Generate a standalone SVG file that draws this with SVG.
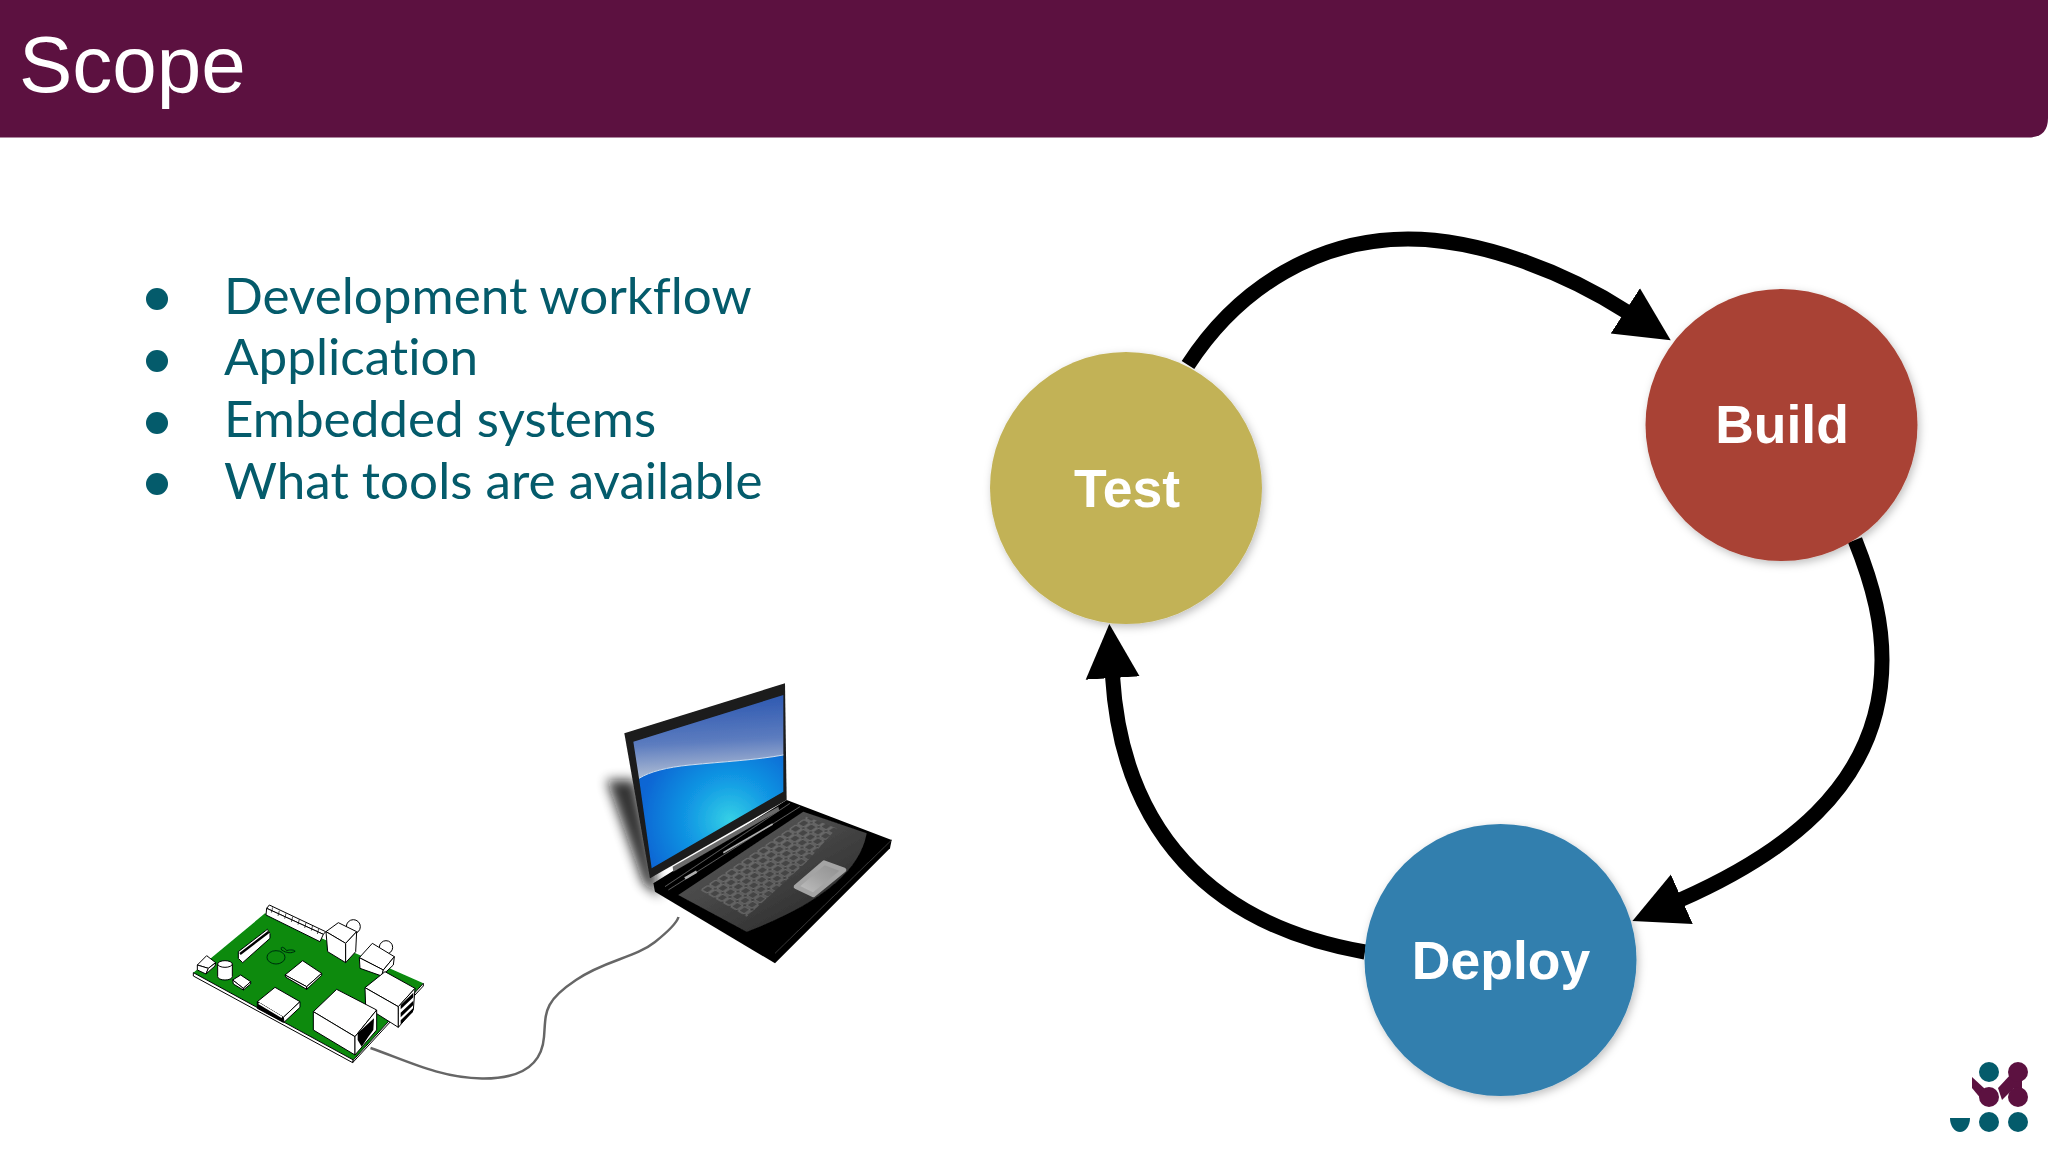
<svg xmlns="http://www.w3.org/2000/svg" width="2048" height="1152" viewBox="0 0 2048 1152">
<style>
.bul{font-family:"Lato","Liberation Sans",sans-serif;font-size:51.200px;fill:#045b6b;font-variant-ligatures:none}
.dot{fill:#045b6b}
.nd{font-family:"Liberation Sans",Arial,sans-serif;font-weight:700;font-size:53.500px;fill:#fff;text-anchor:middle}
.arc{fill:none;stroke:#000;stroke-width:15}
.w{fill:#fff;stroke:#000;stroke-width:3;stroke-linejoin:round}
.k{fill:#000}
.teal{fill:#045b6b}
.pur{fill:#5c1140}
</style>
<defs>
<marker id="head" markerUnits="userSpaceOnUse" markerWidth="56" markerHeight="56" refX="2" refY="28" orient="auto" viewBox="0 0 56 56"><path d="M0 1L54 28L0 55Z" fill="#000"/></marker>
<filter id="sh" x="-20%" y="-20%" width="140%" height="140%"><feDropShadow dx="2" dy="3" stdDeviation="4" flood-color="#000" flood-opacity=".25"/></filter>
<filter id="soft" x="-100%" y="-40%" width="300%" height="180%"><feGaussianBlur stdDeviation="18"/></filter>
<filter id="sl" x="-25%" y="-10%" width="135%" height="120%"><feGaussianBlur stdDeviation="1.800"/></filter>
<linearGradient id="sky" x1="0.5" y1="0" x2="0.6" y2="1"><stop offset="0" stop-color="#2a56b0"/><stop offset=".55" stop-color="#5c7cbf"/><stop offset="1" stop-color="#b8c4d6"/></linearGradient>
<radialGradient id="scr" gradientUnits="userSpaceOnUse" cx="420" cy="450" r="270"><stop offset="0" stop-color="#35d0e6"/><stop offset=".45" stop-color="#129ae4"/><stop offset="1" stop-color="#0a66d4"/></radialGradient>
<linearGradient id="deck" x1="0.1" y1="0.1" x2="0.8" y2="0.9"><stop offset="0" stop-color="#5e5e5e"/><stop offset="1" stop-color="#2c2c2c"/></linearGradient>
<linearGradient id="pad" x1="0" y1="1" x2="1" y2="0"><stop offset="0" stop-color="#c4c4c4"/><stop offset=".5" stop-color="#a4a4a4"/><stop offset="1" stop-color="#8e8e8e"/></linearGradient>
<pattern id="keys" patternUnits="userSpaceOnUse" width="1" height="1" patternTransform="matrix(24 -16.500 22 12.500 330 660)"><rect x=".1" y=".1" width=".8" height=".8" rx=".1" fill="#444" stroke="#a8a8a8" stroke-width=".06"/></pattern>
</defs>
<rect width="2048" height="1152" fill="#fff"/>
<path id="header" class="pur" d="M0 0H2048V118Q2048 137.500 2028 137.500H0Z"/>
<text x="19" y="92" font-family="Liberation Sans,Arial,sans-serif" font-size="80" fill="#fff">Scope</text>
<g id="bullets">
<ellipse class="dot" cx="157" cy="299" rx="11" ry="11"/><text class="bul" x="224" y="314">Development workflow</text>
<ellipse class="dot" cx="157" cy="361" rx="11" ry="11"/><text class="bul" x="224" y="375">Application</text>
<ellipse class="dot" cx="157" cy="423" rx="11" ry="11"/><text class="bul" x="224" y="437">Embedded systems</text>
<ellipse class="dot" cx="157" cy="484" rx="11" ry="11"/><text class="bul" x="224" y="499">What tools are available</text>
</g>
<g id="connectors">
<path class="arc" marker-end="url(#head)" d="M1188 365C1240 285 1320 239 1408 239C1480 239 1565 272 1627 312"/>
<path class="arc" marker-end="url(#head)" d="M1855 540C1875 590 1882 625 1882 660C1882 790 1775 858 1680 900"/>
<path class="arc" marker-end="url(#head)" d="M1365 952C1210 925 1122 830 1112.500 676"/>
</g>
<g id="node-test" filter="url(#sh)"><circle cx="1126" cy="488" r="136" fill="#c2b257"/><text class="nd" x="1127" y="507">Test</text></g>
<g id="node-build" filter="url(#sh)"><circle cx="1781.500" cy="425" r="136" fill="#a94234"/><text class="nd" x="1782" y="442.500">Build</text></g>
<g id="node-deploy" filter="url(#sh)"><circle cx="1500.500" cy="960" r="136" fill="#337fae"/><text class="nd" x="1501" y="979">Deploy</text></g>
<path id="cable" fill="none" stroke="#666" stroke-width="2.500" d="M370.500 1048C405 1060 440 1078 482 1078.500C525 1079 542 1062 544 1037C546 1012 543 1002 576 980C605 960 635 958 655 942C670 930 677 922 678.500 917"/>
<g id="laptop" transform="translate(590 670) scale(.33333)" filter="url(#sl)">
<path d="M50 330L135 330L210 680L160 640Z" fill="#111" opacity=".85" filter="url(#soft)"/>
<path d="M190 640L590 390L905 510L900 535L555 880L195 665Z" fill="#050505"/>
<path d="M265 675L640 425L830 490Q800 660 470 785Z" fill="url(#deck)"/>
<path d="M555 850L905 510" stroke="#333" stroke-width="3" fill="none"/>
<path d="M225 650L600 400M235 660L630 410" stroke="#5a5a5a" stroke-width="3" fill="none"/>
<path d="M330 660L650 440L740 475L650 575L470 740Z" fill="url(#keys)"/>
<path d="M618 650L702 578L762 600L670 675Z" fill="url(#pad)" stroke="#a4a4a4" stroke-width="14" stroke-linejoin="round"/>
<path d="M103 190L585 40L590 390L180 625Z" fill="#1b1b1b"/>
<path d="M130 215L580 75L580 255C500 270 400 275 300 285C230 292 180 305 147 325Z" fill="url(#sky)"/>
<path d="M147 325C180 305 230 292 300 285C400 275 500 270 580 255L580 365L185 595Z" fill="url(#scr)"/>
<path d="M147 325C180 305 230 292 300 285C400 275 500 270 580 255" fill="none" stroke="#cfe0f4" stroke-width="3"/>
<path d="M248 590L565 410L568 422L250 605Z" fill="#6a6a6a"/>
<path d="M400 548L548 462" stroke="#b0b0b0" stroke-width="5"/>
<path d="M285 625L320 605" stroke="#b0b0b0" stroke-width="8"/>
</g>
<g id="board" transform="translate(180 890) scale(.33333)" filter="url(#sl)">
<path d="M40 248L255 70L730 280L520 510Z" fill="#078a10"/>
<path d="M40 248L40 258L518 518L520 510Z" class="w"/>
<path d="M520 510L518 518L730 288L730 280Z" class="w"/>
<path d="M260 55L268 45L437 125L430 133Z" class="w"/><path d="M260 55L430 133L420 155L258 75Z" class="w"/>
<path d="M278 52L274 68M298 62L294 78M318 70L314 86M338 80L334 96M358 88L354 104M378 98L374 114M398 106L394 122M416 116L412 132" stroke="#000" stroke-width="2" fill="none"/>
<path d="M175 185L262 118L270 130L270 145L188 218L175 205Z" class="w"/><path d="M180 192L266 126" stroke="#000" stroke-width="7"/>
<g fill="none" stroke="#000" stroke-width="2"><ellipse cx="288" cy="202" rx="27" ry="20"/><path d="M305 180C300 168 312 170 320 182C330 178 345 180 345 184C335 190 320 190 305 180Z"/></g>
<path d="M52 225L80 197L107 218L85 235Z" class="w"/><path d="M52 225L85 235L78 252L52 240Z" class="w"/><path d="M85 235L107 218L105 228L78 252Z" class="w"/>
<path d="M113 222V260A22 10 0 0 0 157 260V222Z" class="w"/><ellipse class="w" cx="135" cy="222" rx="22" ry="10"/>
<path d="M158 270L182 255L212 275L190 295Z" class="w"/><path d="M158 270L190 295V300L160 282Z M190 295L212 275V282L190 300Z" class="w"/>
<path d="M315 255L368 212L425 250L380 290Z" class="w"/><path d="M315 255L380 290V298L318 262Z M380 290L425 250V256L380 298Z" class="w"/>
<path d="M232 335L285 292L360 335L310 382Z" class="w"/><path d="M232 335L310 382V397L232 355Z" class="k" stroke="#000" stroke-width="3"/><path d="M310 382L360 335V352L312 397Z" class="w"/><path d="M236 340L306 382" stroke="#fff" stroke-width="5"/>
<circle class="w" cx="520" cy="110" r="21"/>
<path d="M438 125L475 98L530 125L497 160Z" class="w"/><path d="M438 125L497 160V218L443 185Z" class="w"/><path d="M497 160L530 125L527 185L497 218Z" class="w"/>
<circle class="w" cx="618" cy="172" r="20"/>
<path d="M538 203L577 160L643 200L610 240Z" class="w"/><path d="M538 203L610 240L605 258L540 235Z" class="w"/><path d="M610 240L643 200L640 225L605 258Z" class="w"/>
<path d="M555 293L615 245L705 295L655 350Z" class="w"/><path d="M555 293L655 350V412L557 350Z" class="w"/><path d="M655 350L705 295L700 360L655 412Z" class="w"/>
<path d="M662 345L700 308V322L662 358ZM662 368L700 332V345L662 382ZM662 391L699 355V366L662 403Z" class="k"/>
<path d="M400 365L470 298L590 360L525 440Z" class="w"/><path d="M400 365L525 440V495L400 420Z" class="w"/><path d="M525 440L590 360V420L525 495Z" class="w"/>
<path d="M533 430L582 385L580 420L565 440L545 470L533 450Z" class="k"/>
</g>
<g id="logo">
<path class="pur" d="M1972 1077L1985 1089L1989 1100L1982 1100L1972 1088Z"/>
<path class="pur" d="M1998 1088L2012 1073L2022 1080L2002 1100Z"/>
<rect class="pur" x="2014" y="1072" width="8" height="25"/>
<circle class="pur" cx="2018" cy="1072" r="10"/><circle class="pur" cx="1989" cy="1097" r="10"/><circle class="pur" cx="2018" cy="1097" r="10"/>
<circle class="teal" cx="1989" cy="1072" r="10"/><circle class="teal" cx="1989" cy="1122" r="10"/><circle class="teal" cx="2018" cy="1122" r="10"/>
<path class="teal" d="M1950 1118H1970A10 14 0 0 1 1950 1118Z"/>
</g>
</svg>
